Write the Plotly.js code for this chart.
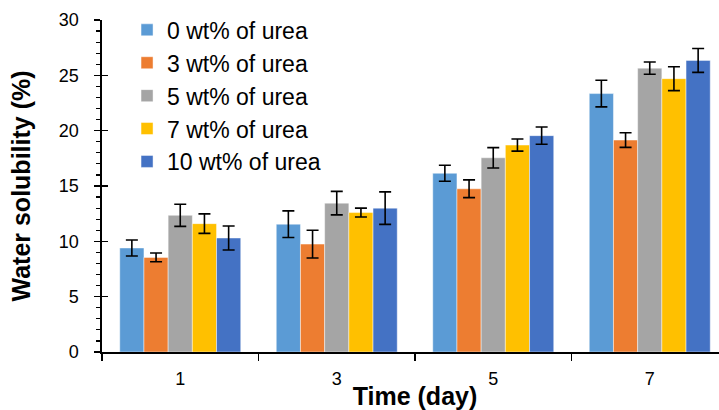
<!DOCTYPE html>
<html>
<head>
<meta charset="utf-8">
<script src="https://cdn.plot.ly/plotly-3.0.1.min.js"></script>
<style>html,body{margin:0;padding:0;background:#fff;overflow:hidden;}#wrap{width:719px;height:410px;overflow:hidden;}#chart{width:728px;height:410px;}</style>
</head>
<body>
<div id="wrap"><div id="chart"></div></div>
<script>
const days = ["1", "3", "5", "7"];
const seriesNames = ["0 wt% of urea", "3 wt% of urea", "5 wt% of urea", "7 wt% of urea", "10 wt% of urea"];
const urea0 = [9.4, 11.55, 16.15, 23.35];
const urea3 = [8.55, 9.75, 14.75, 19.15];
const urea5 = [12.35, 13.45, 17.55, 25.65];
const urea7 = [11.6, 12.6, 18.7, 24.7];
const urea10 = [10.3, 13.0, 19.55, 26.35];
const err0 = [0.72, 1.2, 0.72, 1.2];
const err3 = [0.4, 1.25, 0.8, 0.66];
const err5 = [1.0, 1.06, 0.92, 0.55];
const err7 = [0.88, 0.4, 0.55, 1.08];
const err10 = [1.08, 1.47, 0.78, 1.08];
const colors = ["#5B9BD5", "#ED7D31", "#A5A5A5", "#FFC000", "#4472C4"];

const values = [urea0, urea3, urea5, urea7, urea10];
const errs = [err0, err3, err5, err7, err10];

const traces = values.map((v, i) => ({
  type: "bar",
  name: seriesNames[i],
  x: days,
  y: v,
  marker: {color: colors[i], line: {color: "rgba(255,255,255,0.45)", width: 1}},
  error_y: {type: "data", array: errs[i], visible: true, color: "#000", thickness: 1.6, width: 6},
  hoverinfo: "x+y+name"
}));

// invisible helper trace on overlay axis for crossing major ticks
traces.push({type: "scatter", x: days, y: [null, null, null, null], yaxis: "y2", showlegend: false, hoverinfo: "skip"});

const font = "Liberation Sans, Arial, sans-serif";
const layout = {
  width: 728, height: 410,
  margin: {l: 102, r: 0, t: 20, b: 58, pad: 0},
  paper_bgcolor: "#fff", plot_bgcolor: "#fff",
  font: {family: font, color: "#000", size: 18},
  barmode: "group",
  bargap: 0.227,
  bargroupgap: 0,
  showlegend: true,
  legend: {
    x: 0.04, y: 1.035, xanchor: "left", yanchor: "top",
    font: {family: font, size: 23, color: "#000"},
    bgcolor: "rgba(0,0,0,0)", borderwidth: 0,
    tracegroupgap: 0
  },
  xaxis: {
    type: "category",
    range: [-0.5, 3.5],
    showline: true, linecolor: "#000", linewidth: 1.6,
    ticks: "outside", tickson: "boundaries", ticklen: 7, tickwidth: 1.6, tickcolor: "#000",
    showgrid: false, zeroline: false,
    tickfont: {family: font, size: 18, color: "#000"},
    ticklabelstandoff: 10,
    title: {text: "<b>Time (day)</b>", font: {family: font, size: 25, color: "#000"}, standoff: 0}
  },
  yaxis: {
    range: [0, 30],
    dtick: 5,
    showline: true, linecolor: "#000", linewidth: 1.6,
    ticks: "outside", ticklen: 6, tickwidth: 1.6, tickcolor: "#000",
    minor: {dtick: 1, ticks: "outside", ticklen: 4, tickwidth: 1.2, tickcolor: "#000", showgrid: false},
    showgrid: false, zeroline: false,
    tickfont: {family: font, size: 18, color: "#000"},
    ticklabelstandoff: 12,
    title: {text: "<b>Water solubility (%)</b>", font: {family: font, size: 25, color: "#000"}, standoff: 21}
  },
  yaxis2: {
    overlaying: "y", side: "left", matches: "y", range: [0, 30], dtick: 5,
    ticks: "inside", ticklen: 6, tickwidth: 1.6, tickcolor: "#000",
    showticklabels: false, showgrid: false, zeroline: false, showline: false
  }
};

Plotly.newPlot("chart", traces, layout, {displayModeBar: false, staticPlot: true});
</script>
</body>
</html>
